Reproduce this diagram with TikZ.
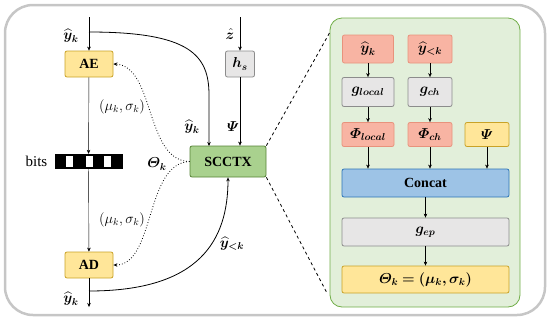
\documentclass[tikz,border=0pt]{standalone}
\usepackage{amsmath}
\usepackage{bm}
\usepackage{fontspec}
\setmainfont{Liberation Serif}
\usetikzlibrary{arrows.meta,positioning}

\definecolor{aeyellow}{HTML}{FFE699}
\definecolor{aeyellowline}{HTML}{C9A227}
\definecolor{hsgray}{HTML}{E7E6E6}
\definecolor{hsgrayline}{HTML}{8C8C8C}
\definecolor{ctxgreen}{HTML}{A9D18E}
\definecolor{ctxgreenline}{HTML}{548235}
\definecolor{salmon}{HTML}{F8B4A3}
\definecolor{salmonline}{HTML}{E8927C}
\definecolor{catblue}{HTML}{9DC3E6}
\definecolor{catblueline}{HTML}{2E75B6}
\definecolor{panelgreen}{HTML}{E2EFDA}
\definecolor{panelline}{HTML}{70AD47}

\tikzset{
  >={Stealth[length=4pt,width=3.5pt]},
  blk/.style={draw, line width=0.8pt, rounded corners=2pt, inner sep=0pt,
    font=\fontsize{14}{16}\selectfont\bfseries},
  yelbox/.style={blk, fill=aeyellow, draw=aeyellowline},
  graybox/.style={blk, fill=hsgray, draw=hsgrayline},
  redbox/.style={blk, fill=salmon, draw=salmonline},
  lbl/.style={font=\fontsize{14}{16}\selectfont},
}

\begin{document}
\begin{tikzpicture}[x=1pt, y=-1pt]
  \useasboundingbox (0,0) rectangle (550,325);

  % Outer frame
  \draw[gray!45, line width=2.5pt, rounded corners=28pt] (5,5) rectangle (545,315);

  % Left part: coder
  \node[yelbox, minimum width=48pt, minimum height=26pt] (ae) at (89,64) {AE};
  \node[yelbox, minimum width=48pt, minimum height=26pt] (ad) at (89,265) {AD};
  \node[graybox, minimum width=29pt, minimum height=26pt] (hs) at (240,64) {$\bm{h_s}$};
  \node[blk, fill=ctxgreen, draw=ctxgreenline, minimum width=76pt, minimum height=31pt] (scctx) at (228,161.5) {SCCTX};

  % Bitstream
  \node[draw=black, fill=black, minimum width=67pt, minimum height=14pt, inner sep=0pt] (bits) at (88.5,161) {};
  \foreach \bx in {69.5,89,107} {
    \fill[white] (\bx-3.5,155.5) rectangle (\bx+3.5,166.5);
  }
  \node[lbl, font=\fontsize{15}{17}\selectfont, left=4pt of bits] (bitslbl) {bits};

  \coordinate (top) at (89,17);
  \coordinate (br) at (89,32);
  \coordinate (ztop) at (240,17);
  \coordinate (bot) at (89,307);
  \coordinate (brb) at (89,291);

  \draw[->] (top) -- (ae);
  \draw[->] (ae) -- (bits);
  \draw[->] (bits) -- (ad);
  \draw[->] (ad) -- (bot);
  \draw[->] (ztop) -- (hs);
  \draw[->] (hs) -- (hs |- scctx.north);
  \draw[->, thick] (br) .. controls (190,32) and (209,55) .. (209,95) -- (209,146);
  \draw[->, thick] (brb) .. controls (200,291) and (228,240) .. (scctx.south);

  % Dotted parameter arrows
  \draw[->, dotted, line width=0.8pt] (scctx.west) .. controls (145,161) and (155,66) .. (ae.east);
  \draw[->, dotted, line width=0.8pt] (scctx.west) .. controls (145,163) and (155,265) .. (ad.east);

  % Labels
  \node[lbl] (yk1) at (71,36) {$\bm{\widehat{y}_k}$};
  \node[lbl] (zh) at (230,34) {$\bm{\hat{z}}$};
  \node[lbl] (yk2) at (192,127) {$\bm{\widehat{y}_k}$};
  \node[lbl] (psi1) at (233,127) {$\bm{\varPsi}$};
  \node[lbl] (th1) at (157,164) {$\bm{\varTheta_k}$};
  \node[lbl] (ms1) at (122,107) {$(\mu_k, \sigma_k)$};
  \node[lbl] (ms2) at (122,220) {$(\mu_k, \sigma_k)$};
  \node[lbl] (yk3) at (71,299) {$\bm{\widehat{y}_k}$};
  \node[lbl] (ylt) at (232,244) {$\bm{\widehat{y}_{<k}}$};

  % Right part: SCCTX details
  \node[draw=panelline, fill=panelgreen, line width=0.8pt, rounded corners=12pt,
    minimum width=190pt, minimum height=289pt] (panel) at (425,162.5) {};
  \coordinate (pt) at (330,32);
  \coordinate (pb) at (327,293);
  \draw[dashed, thick] (scctx.north east) -- (pt);
  \draw[dashed, thick] (scctx.south east) -- (pb);

  \node[redbox, minimum width=51pt, minimum height=28pt] (yk) at (368,49) {$\bm{\widehat{y}_k}$};
  \node[redbox, minimum width=44pt, minimum height=28pt] (ylk) at (430,49) {$\bm{\widehat{y}_{<k}}$};
  \node[graybox, minimum width=52pt, minimum height=29pt] (gl) at (368,92) {$\bm{g_{local}}$};
  \node[graybox, minimum width=44pt, minimum height=29pt] (gc) at (430,92) {$\bm{g_{ch}}$};
  \node[redbox, minimum width=52pt, minimum height=24pt] (pl) at (368,134.5) {$\bm{\varPhi_{local}}$};
  \node[redbox, minimum width=44pt, minimum height=24pt] (pc) at (430,134.5) {$\bm{\varPhi_{ch}}$};
  \node[yelbox, minimum width=44pt, minimum height=24pt] (ps) at (487,134.5) {$\bm{\varPsi}$};
  \node[blk, fill=catblue, draw=catblueline, minimum width=167pt, minimum height=28pt] (cat) at (425.5,183) {Concat};
  \node[graybox, minimum width=167pt, minimum height=28pt] (gep) at (425.5,232) {$\bm{g_{ep}}$};
  \node[yelbox, minimum width=167pt, minimum height=27pt] (th) at (425.5,279.5) {$\bm{\varTheta_k = (\mu_k, \sigma_k)}$};

  \draw[->] (yk) -- (gl);
  \draw[->] (ylk) -- (gc);
  \draw[->] (gl) -- (pl);
  \draw[->] (gc) -- (pc);
  \draw[->] (pl) -- (pl |- cat.north);
  \draw[->] (pc) -- (pc |- cat.north);
  \draw[->] (ps) -- (ps |- cat.north);
  \draw[->] (cat) -- (gep);
  \draw[->] (gep) -- (th);
\end{tikzpicture}
\end{document}
